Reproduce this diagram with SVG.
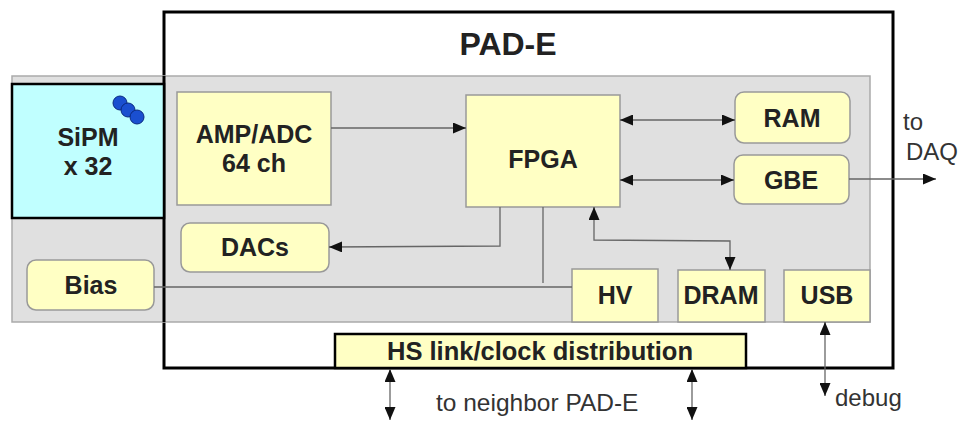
<svg xmlns="http://www.w3.org/2000/svg" width="960" height="421" viewBox="0 0 960 421">
<defs>
<marker id="ah" viewBox="0 0 13 11" refX="13" refY="5.5" markerWidth="13" markerHeight="11" markerUnits="userSpaceOnUse" orient="auto-start-reverse">
<path d="M0,0 L13,5.5 L0,11 Z" fill="#111"/>
</marker>
</defs>
<style>
.blk{fill:#ffffc4;stroke:#999;stroke-width:1.5}
.lbl{font-family:"Liberation Sans",Arial,sans-serif;font-weight:bold;font-size:25px;fill:#222;text-anchor:middle}
.txt{font-family:"Liberation Sans",Arial,sans-serif;font-size:24px;fill:#333}
.ln{fill:none;stroke:#666;stroke-width:1.3}
</style>
<rect x="0" y="0" width="960" height="421" fill="#fff"/>
<g id="pad-e">
<rect x="164" y="12" width="729" height="356" fill="#fff" stroke="#000" stroke-width="3"/>
<text class="lbl" x="508" y="55" style="font-size:32px">PAD-E</text>
</g>
<g id="panel">
<rect x="12" y="76" width="858" height="246" fill="#e0e0e0" stroke="#aaa" stroke-width="1.5"/>
<line x1="164" y1="76" x2="164" y2="322" stroke="#000" stroke-width="3"/>
</g>
<g id="sipm">
<rect x="12" y="84" width="152" height="134" fill="#c0ffff" stroke="#000" stroke-width="2.5"/>
<circle cx="120" cy="103" r="7" fill="#1a4fd0" stroke="#0a2a80" stroke-width="1"/>
<circle cx="128" cy="110" r="7" fill="#1a4fd0" stroke="#0a2a80" stroke-width="1"/>
<circle cx="137" cy="117" r="7" fill="#1a4fd0" stroke="#0a2a80" stroke-width="1"/>
<text class="lbl" x="88" y="146">SiPM</text>
<text class="lbl" x="88" y="175">x 32</text>
</g>
<g id="ampadc">
<rect class="blk" x="177" y="92" width="154" height="113"/>
<text class="lbl" x="254" y="143">AMP/ADC</text>
<text class="lbl" x="254" y="172">64 ch</text>
</g>
<g id="fpga">
<rect class="blk" x="466" y="95" width="154" height="112"/>
<text class="lbl" x="543" y="168">FPGA</text>
</g>
<g id="ram">
<rect class="blk" x="735" y="92" width="115" height="51" rx="9"/>
<text class="lbl" x="792" y="127">RAM</text>
</g>
<g id="gbe">
<rect class="blk" x="734" y="155" width="115" height="49" rx="9"/>
<text class="lbl" x="791" y="189">GBE</text>
</g>
<g id="dacs">
<rect class="blk" x="181" y="223" width="148" height="49" rx="9"/>
<text class="lbl" x="255" y="256">DACs</text>
</g>
<g id="bias">
<rect class="blk" x="27" y="260" width="127" height="50" rx="9"/>
<text class="lbl" x="91" y="294">Bias</text>
</g>
<g id="hv">
<rect class="blk" x="572" y="269" width="86" height="53"/>
<text class="lbl" x="615" y="304">HV</text>
</g>
<g id="dram">
<rect class="blk" x="678" y="270" width="87" height="52"/>
<text class="lbl" x="721" y="304">DRAM</text>
</g>
<g id="usb">
<rect class="blk" x="784" y="270" width="86" height="52"/>
<text class="lbl" x="827" y="304">USB</text>
</g>
<g id="hslink">
<rect x="335" y="334" width="411" height="34" fill="#ffffc4" stroke="#000" stroke-width="2.5"/>
<text class="lbl" x="540" y="360" style="font-size:25.5px">HS link/clock distribution</text>
</g>
<g id="connectors">
<line class="ln" x1="331" y1="128" x2="466" y2="128" marker-end="url(#ah)"/>
<line class="ln" x1="620" y1="120" x2="735" y2="120" marker-start="url(#ah)" marker-end="url(#ah)"/>
<line class="ln" x1="620" y1="180" x2="734" y2="180" marker-start="url(#ah)" marker-end="url(#ah)"/>
<line class="ln" x1="849" y1="179" x2="936" y2="179" marker-end="url(#ah)"/>
<polyline class="ln" points="500,207 500,246 329,247" marker-end="url(#ah)"/>
<line class="ln" x1="543" y1="207" x2="543" y2="283"/>
<line class="ln" x1="154" y1="287" x2="572" y2="287"/>
<polyline class="ln" points="594,207 594,240 730,241 730,270" marker-start="url(#ah)" marker-end="url(#ah)"/>
<line class="ln" x1="390" y1="369" x2="390" y2="420" marker-start="url(#ah)" marker-end="url(#ah)"/>
<line class="ln" x1="692" y1="369" x2="692" y2="420" marker-start="url(#ah)" marker-end="url(#ah)"/>
<line class="ln" x1="825" y1="322" x2="825" y2="396" marker-start="url(#ah)" marker-end="url(#ah)"/>
</g>
<g id="labels">
<text class="txt" x="903" y="130">to</text>
<text class="txt" x="906" y="160">DAQ</text>
<text class="txt" x="436" y="411" style="font-size:24.5px">to neighbor PAD-E</text>
<text class="txt" x="835" y="406">debug</text>
</g>
</svg>
